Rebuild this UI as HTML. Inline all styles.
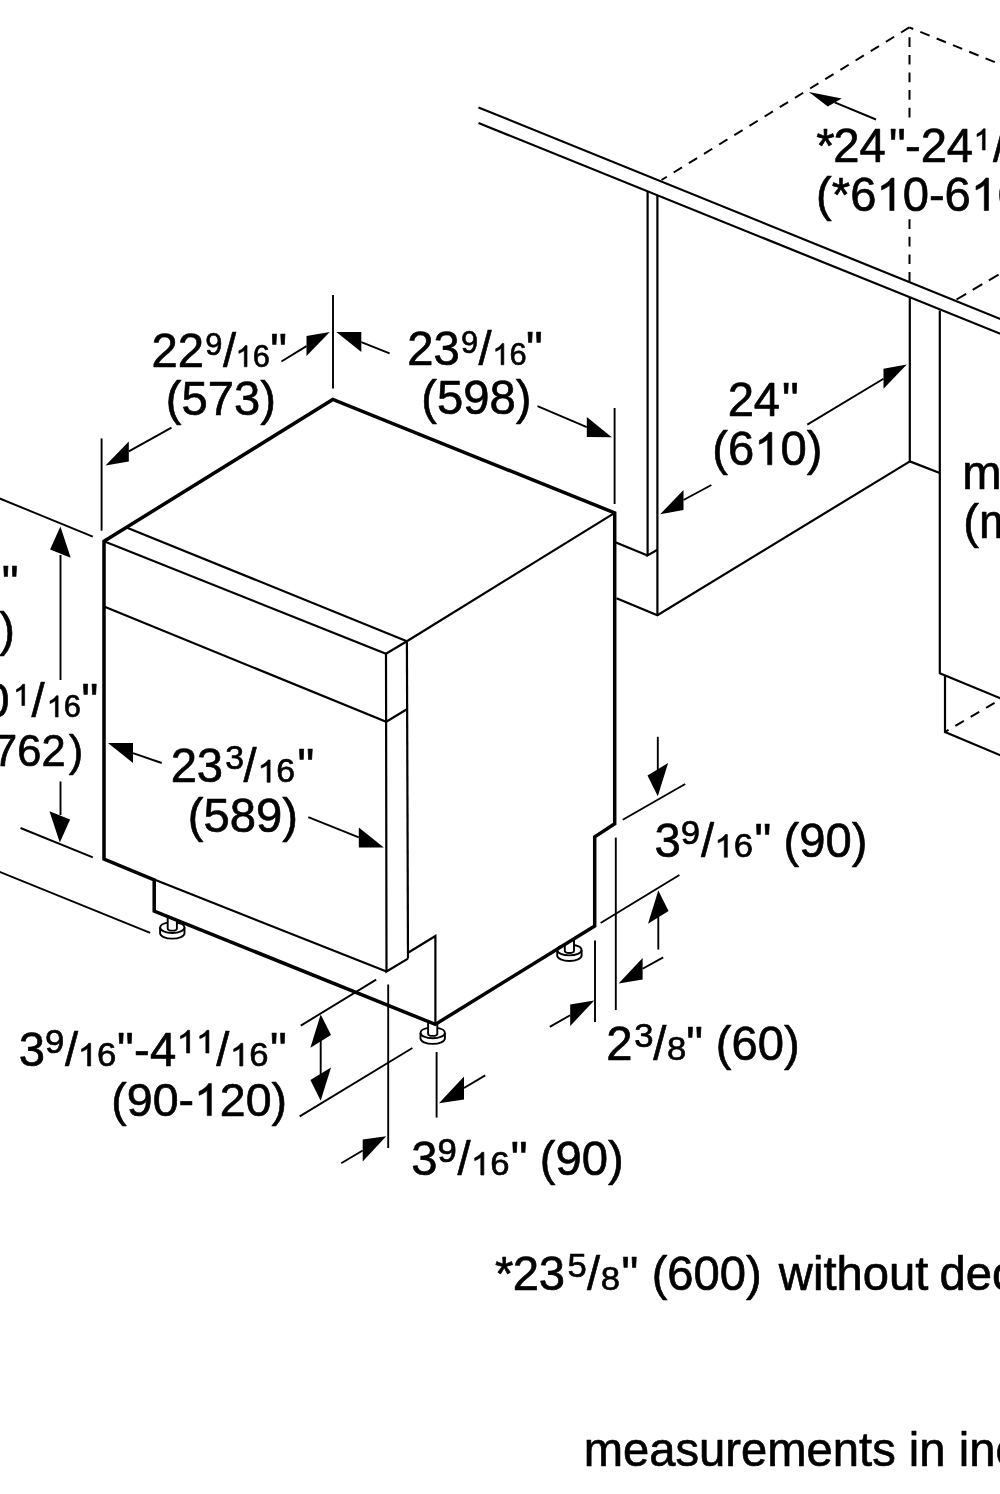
<!DOCTYPE html>
<html><head><meta charset="utf-8"><title>Dimension drawing</title>
<style>
html,body{margin:0;padding:0;background:#fff;}
body{width:1000px;height:1494px;overflow:hidden;}
svg{display:block;will-change:transform;}
svg path{fill:none;stroke:#000;}
svg .f{fill:#000;stroke:none;}
svg .g{fill:#000;stroke:#000;stroke-linejoin:round;}
svg text{font-family:"Liberation Sans",sans-serif;fill:#000;stroke:#000;stroke-width:0.65px;stroke-linejoin:round;}
</style></head>
<body>
<svg width="1000" height="1494" viewBox="0 0 1000 1494">
<rect x="0" y="0" width="1000" height="1494" fill="#fff"/>
<path d="M478.50 107.40 L1002.00 319.68" stroke-width="2.2" stroke-linecap="butt" stroke-linejoin="miter"/>
<path d="M478.50 123.00 L1002.00 334.49" stroke-width="2.2" stroke-linecap="butt" stroke-linejoin="miter"/>
<path d="M647.60 191.50 L647.60 555.40 L657.40 549.80" stroke-width="2.2" stroke-linecap="butt" stroke-linejoin="miter"/>
<path d="M657.40 195.50 L657.40 615.20" stroke-width="2.2" stroke-linecap="butt" stroke-linejoin="miter"/>
<path d="M614.70 542.00 L647.60 555.40" stroke-width="2.2" stroke-linecap="butt" stroke-linejoin="miter"/>
<path d="M616.50 598.20 L657.40 615.20 L909.50 461.60" stroke-width="2.2" stroke-linecap="butt" stroke-linejoin="miter"/>
<path d="M909.80 298.00 L909.80 461.40 L939.80 473.00" stroke-width="2.2" stroke-linecap="butt" stroke-linejoin="miter"/>
<path d="M939.80 310.40 L939.80 673.20 L1002.00 698.90" stroke-width="2.2" stroke-linecap="butt" stroke-linejoin="miter"/>
<path d="M945.00 675.30 L945.00 731.90 L1002.00 756.00" stroke-width="2.2" stroke-linecap="butt" stroke-linejoin="miter"/>
<path d="M945.00 731.90 L1002.00 698.40" stroke-width="2.0" stroke-linecap="butt" stroke-linejoin="miter" stroke-dasharray="9.9 7.9" stroke-dashoffset="5.8"/>
<path d="M909.30 27.40 L661.50 180.00" stroke-width="2.0" stroke-linecap="butt" stroke-linejoin="miter" stroke-dasharray="9.7 8.1"/>
<path d="M909.30 27.40 L1002.00 65.00" stroke-width="2.0" stroke-linecap="butt" stroke-linejoin="miter" stroke-dasharray="10 7.6" stroke-dashoffset="5.7"/>
<path d="M909.50 37.30 L909.50 118.00" stroke-width="2.0" stroke-linecap="butt" stroke-linejoin="miter" stroke-dasharray="9.7 7.9"/>
<path d="M909.50 219.20 L909.50 282.50" stroke-width="2.0" stroke-linecap="butt" stroke-linejoin="miter" stroke-dasharray="9.7 7.9"/>
<path d="M956.50 299.50 L1002.00 272.60" stroke-width="2.0" stroke-linecap="butt" stroke-linejoin="miter" stroke-dasharray="11.2 7.6"/>
<path d="M167.70 917.10 L167.70 928.40 A4.6 2.2 0 0 0 176.90 928.40 L176.90 920.10" stroke-width="1.9" style="fill:#fff"/>
<path d="M160.10 927.60 L160.10 933.20 A12.2 5.4 0 0 0 184.50 933.20 L184.50 927.60" stroke-width="1.9"/>
<path d="M167.70 922.63 A12.2 5.4 0 0 0 160.10 927.60 A12.2 5.4 0 0 0 184.50 927.60 A12.2 5.4 0 0 0 176.90 922.63" stroke-width="1.9"/>
<path d="M428.10 1022.40 L428.10 1033.70 A4.6 2.2 0 0 0 437.30 1033.70 L437.30 1022.90" stroke-width="1.9" style="fill:#fff"/>
<path d="M420.50 1032.90 L420.50 1038.50 A12.2 5.4 0 0 0 444.90 1038.50 L444.90 1032.90" stroke-width="1.9"/>
<path d="M428.10 1027.93 A12.2 5.4 0 0 0 420.50 1032.90 A12.2 5.4 0 0 0 444.90 1032.90 A12.2 5.4 0 0 0 437.30 1027.93" stroke-width="1.9"/>
<path d="M564.80 944.50 L564.80 950.80 A4.6 2.2 0 0 0 574.00 950.80 L574.00 939.50" stroke-width="1.9" style="fill:#fff"/>
<path d="M557.20 950.00 L557.20 955.60 A12.2 5.4 0 0 0 581.60 955.60 L581.60 950.00" stroke-width="1.9"/>
<path d="M564.80 945.03 A12.2 5.4 0 0 0 557.20 950.00 A12.2 5.4 0 0 0 581.60 950.00 A12.2 5.4 0 0 0 574.00 945.03" stroke-width="1.9"/>
<path d="M126.50 527.40 L406.90 641.20" stroke-width="2.2" stroke-linecap="butt" stroke-linejoin="miter"/>
<path d="M104.00 541.30 L386.00 653.80 L406.90 641.20" stroke-width="2.2" stroke-linecap="butt" stroke-linejoin="miter"/>
<path d="M406.90 641.20 L614.70 512.90" stroke-width="2.2" stroke-linecap="butt" stroke-linejoin="miter"/>
<path d="M386.00 653.80 L386.50 971.50 L408.00 958.60" stroke-width="2.2" stroke-linecap="butt" stroke-linejoin="miter"/>
<path d="M406.90 641.20 L408.00 958.60" stroke-width="2.2" stroke-linecap="butt" stroke-linejoin="miter"/>
<path d="M104.00 606.60 L386.20 721.70 L407.30 709.00" stroke-width="2.2" stroke-linecap="butt" stroke-linejoin="miter"/>
<path d="M154.20 879.60 L386.50 971.50" stroke-width="2.2" stroke-linecap="butt" stroke-linejoin="miter"/>
<path d="M408.00 952.80 L435.40 936.00 L435.40 1024.00" stroke-width="2.2" stroke-linecap="butt" stroke-linejoin="miter"/>
<path d="M104.00 859.20 L104.00 541.30 L332.80 399.50 L614.70 512.90 L614.70 823.80 L594.70 836.90 L594.70 925.90 L435.30 1024.40 L154.20 911.00 L154.20 880.00 L104.00 859.20 L104.00 541.30" stroke-width="3.5" stroke-linecap="butt" stroke-linejoin="miter"/>
<path d="M333.00 295.00 L333.00 388.50" stroke-width="1.9" stroke-linecap="butt" stroke-linejoin="miter"/>
<path d="M101.60 438.40 L101.60 530.70" stroke-width="1.9" stroke-linecap="butt" stroke-linejoin="miter"/>
<path d="M614.60 408.00 L614.60 504.00" stroke-width="1.9" stroke-linecap="butt" stroke-linejoin="miter"/>
<path d="M-2.00 497.80 L92.80 536.60" stroke-width="1.9" stroke-linecap="butt" stroke-linejoin="miter"/>
<path d="M20.50 828.00 L92.80 857.40" stroke-width="1.9" stroke-linecap="butt" stroke-linejoin="miter"/>
<path d="M-2.00 871.20 L150.20 932.90" stroke-width="1.9" stroke-linecap="butt" stroke-linejoin="miter"/>
<path d="M60.50 555.00 L60.50 680.00" stroke-width="1.9" stroke-linecap="butt" stroke-linejoin="miter"/>
<path d="M60.50 781.50 L60.50 815.00" stroke-width="1.9" stroke-linecap="butt" stroke-linejoin="miter"/>
<path d="M300.80 1025.60 L376.20 979.60" stroke-width="1.9" stroke-linecap="butt" stroke-linejoin="miter"/>
<path d="M299.70 1116.40 L412.40 1048.00" stroke-width="1.9" stroke-linecap="butt" stroke-linejoin="miter"/>
<path d="M320.70 1040.00 L320.70 1075.00" stroke-width="1.9" stroke-linecap="butt" stroke-linejoin="miter"/>
<path d="M388.20 984.50 L388.20 1148.00" stroke-width="1.9" stroke-linecap="butt" stroke-linejoin="miter"/>
<path d="M436.60 1052.00 L436.60 1117.60" stroke-width="1.9" stroke-linecap="butt" stroke-linejoin="miter"/>
<path d="M622.80 819.80 L685.20 784.00" stroke-width="1.9" stroke-linecap="butt" stroke-linejoin="miter"/>
<path d="M600.60 923.00 L679.40 875.00" stroke-width="1.9" stroke-linecap="butt" stroke-linejoin="miter"/>
<path d="M657.80 736.80 L657.80 772.00" stroke-width="1.9" stroke-linecap="butt" stroke-linejoin="miter"/>
<path d="M658.30 915.00 L658.30 949.60" stroke-width="1.9" stroke-linecap="butt" stroke-linejoin="miter"/>
<path d="M615.80 837.60 L615.80 1010.00" stroke-width="1.9" stroke-linecap="butt" stroke-linejoin="miter"/>
<path d="M595.00 940.50 L595.00 1022.00" stroke-width="1.9" stroke-linecap="butt" stroke-linejoin="miter"/>
<polygon class="f" points="329.80,331.90 306.50,336.11 306.50,356.11"/>
<path d="M306.50 346.11 L281.40 361.50" stroke-width="1.9" stroke-linecap="butt" stroke-linejoin="miter"/>
<polygon class="f" points="336.30,331.90 361.30,332.02 361.30,352.02"/>
<path d="M361.30 342.02 L389.60 353.40" stroke-width="1.9" stroke-linecap="butt" stroke-linejoin="miter"/>
<polygon class="f" points="105.50,465.60 128.80,441.39 128.80,461.39"/>
<path d="M128.80 451.39 L171.50 427.60" stroke-width="1.9" stroke-linecap="butt" stroke-linejoin="miter"/>
<polygon class="f" points="611.80,437.20 586.80,417.07 586.80,437.07"/>
<path d="M586.80 427.07 L537.50 406.20" stroke-width="1.9" stroke-linecap="butt" stroke-linejoin="miter"/>
<polygon class="f" points="906.80,364.60 883.50,368.81 883.50,388.81"/>
<path d="M883.50 378.81 L807.30 424.60" stroke-width="1.9" stroke-linecap="butt" stroke-linejoin="miter"/>
<polygon class="f" points="660.20,514.20 683.50,489.99 683.50,509.99"/>
<path d="M683.50 499.99 L711.40 485.00" stroke-width="1.9" stroke-linecap="butt" stroke-linejoin="miter"/>
<polygon class="f" points="808.90,91.90 841.75,98.40 827.80,106.50"/>
<path d="M834.70 102.40 L876.00 119.50" stroke-width="1.9" stroke-linecap="butt" stroke-linejoin="miter"/>
<polygon class="f" points="108.00,743.00 133.00,743.12 133.00,763.12"/>
<path d="M133.00 753.12 L161.70 763.00" stroke-width="1.9" stroke-linecap="butt" stroke-linejoin="miter"/>
<polygon class="f" points="383.80,847.60 358.80,827.48 358.80,847.48"/>
<path d="M358.80 837.48 L308.30 817.20" stroke-width="1.9" stroke-linecap="butt" stroke-linejoin="miter"/>
<polygon class="f" points="60.40,526.60 50.10,549.43 70.70,557.77"/>
<polygon class="f" points="59.80,842.40 49.50,811.23 70.10,819.57"/>
<polygon class="f" points="320.70,1014.40 310.40,1047.68 331.00,1035.12"/>
<polygon class="f" points="320.70,1100.80 310.40,1080.08 331.00,1067.52"/>
<polygon class="f" points="657.80,796.30 647.50,775.58 668.10,763.02"/>
<polygon class="f" points="658.30,890.40 648.00,923.68 668.60,911.12"/>
<polygon class="f" points="594.20,1000.60 570.20,1004.49 570.20,1025.99"/>
<path d="M570.20 1015.24 L549.80 1026.80" stroke-width="1.9" stroke-linecap="butt" stroke-linejoin="miter"/>
<polygon class="f" points="618.60,983.40 642.60,958.01 642.60,979.51"/>
<path d="M642.60 968.76 L663.20 957.40" stroke-width="1.9" stroke-linecap="butt" stroke-linejoin="miter"/>
<polygon class="f" points="386.20,1136.20 362.70,1139.54 362.70,1161.54"/>
<path d="M362.70 1150.54 L341.20 1163.20" stroke-width="1.9" stroke-linecap="butt" stroke-linejoin="miter"/>
<polygon class="f" points="439.00,1103.20 464.00,1076.45 464.00,1099.45"/>
<path d="M464.00 1087.95 L485.20 1075.40" stroke-width="1.9" stroke-linecap="butt" stroke-linejoin="miter"/>
<text x="151.43" y="366.80" font-size="47.2">22</text>
<text x="205.16" y="355.20" font-size="30.8">9</text>
<text x="223.00" y="366.80" font-size="47.2">/</text>
<path class="g" d="M763 0H583V1147Q518 1085 412.5 1023T223 930V1104Q373 1174.5 485 1275T644 1466H763Z" transform="translate(235.55 366.80) scale(0.01504 -0.01445)" stroke-width="43.2"/>
<text x="252.68" y="366.80" font-size="30.8">6</text>
<text x="270.29" y="366.80" font-size="47.2">&quot;</text>
<text x="165.87" y="414.60" font-size="47.2">(573)</text>
<text x="407.23" y="364.80" font-size="47.2">23</text>
<text x="460.96" y="353.20" font-size="30.8">9</text>
<text x="478.40" y="364.80" font-size="47.2">/</text>
<path class="g" d="M763 0H583V1147Q518 1085 412.5 1023T223 930V1104Q373 1174.5 485 1275T644 1466H763Z" transform="translate(492.35 364.80) scale(0.01504 -0.01445)" stroke-width="43.2"/>
<text x="509.48" y="364.80" font-size="30.8">6</text>
<text x="525.99" y="364.80" font-size="47.2">&quot;</text>
<text x="421.27" y="414.00" font-size="47.2">(598)</text>
<text x="727.63" y="415.50" font-size="47.2">24</text>
<text x="781.99" y="415.50" font-size="47.2">&quot;</text>
<text x="712.27" y="464.80" font-size="47.2">(6</text>
<path class="g" d="M763 0H583V1147Q518 1085 412.5 1023T223 930V1104Q373 1174.5 485 1275T644 1466H763Z" transform="translate(754.24 464.80) scale(0.02305 -0.02215)" stroke-width="28.2"/>
<text x="780.49" y="464.80" font-size="47.2">0)</text>
<text x="816.24" y="161.60" font-size="47.2">*</text>
<text x="833.23" y="161.60" font-size="47.2">24</text>
<text x="888.99" y="161.60" font-size="47.2">&quot;</text>
<text x="904.90" y="161.60" font-size="47.2">-</text>
<text x="920.63" y="161.60" font-size="47.2">24</text>
<path class="g" d="M763 0H583V1147Q518 1085 412.5 1023T223 930V1104Q373 1174.5 485 1275T644 1466H763Z" transform="translate(973.65 150.00) scale(0.01504 -0.01445)" stroke-width="43.2"/>
<text x="993.00" y="161.60" font-size="47.2">/</text>
<text x="1007.29" y="161.60" font-size="30.8">4</text>
<text x="816.07" y="210.50" font-size="47.2">(*6</text>
<path class="g" d="M763 0H583V1147Q518 1085 412.5 1023T223 930V1104Q373 1174.5 485 1275T644 1466H763Z" transform="translate(876.41 210.50) scale(0.02305 -0.02215)" stroke-width="28.2"/>
<text x="902.66" y="210.50" font-size="47.2">0-6</text>
<path class="g" d="M763 0H583V1147Q518 1085 412.5 1023T223 930V1104Q373 1174.5 485 1275T644 1466H763Z" transform="translate(970.88 210.50) scale(0.02305 -0.02215)" stroke-width="28.2"/>
<text x="997.13" y="210.50" font-size="47.2">6)</text>
<text x="962.17" y="489.00" font-size="47.2">min. 34&quot;</text>
<text x="963.37" y="538.00" font-size="47.2">(min. 865)</text>
<text x="1.79" y="598.50" font-size="47.2">&quot;</text>
<text x="-0.80" y="645.60" font-size="47.2">)</text>
<text x="-42.90" y="717.00" font-size="47.2">30</text>
<path class="g" d="M763 0H583V1147Q518 1085 412.5 1023T223 930V1104Q373 1174.5 485 1275T644 1466H763Z" transform="translate(13.15 705.40) scale(0.01504 -0.01445)" stroke-width="43.2"/>
<text x="31.40" y="717.00" font-size="47.2">/</text>
<path class="g" d="M763 0H583V1147Q518 1085 412.5 1023T223 930V1104Q373 1174.5 485 1275T644 1466H763Z" transform="translate(46.65 717.00) scale(0.01504 -0.01445)" stroke-width="43.2"/>
<text x="63.78" y="717.00" font-size="30.8">6</text>
<text x="81.49" y="717.00" font-size="47.2">&quot;</text>
<text x="-21.40" y="765.80" font-size="43.5">(762</text>
<text x="68.75" y="765.80" font-size="43.5">)</text>
<text x="170.63" y="782.30" font-size="47.2">23</text>
<g transform="translate(225.31 769.30) scale(1.0400 1)">
<text x="0.00" y="0.00" font-size="32.5">3</text>
</g>
<text x="243.60" y="782.30" font-size="47.2">/</text>
<g transform="translate(257.52 782.30) scale(1.0400 1)">
<path class="g" d="M763 0H583V1147Q518 1085 412.5 1023T223 930V1104Q373 1174.5 485 1275T644 1466H763Z" transform="translate(0.00 0.00) scale(0.01587 -0.01525)" stroke-width="41.0"/>
<text x="18.07" y="0.00" font-size="32.5">6</text>
</g>
<text x="297.39" y="782.30" font-size="47.2">&quot;</text>
<text x="187.87" y="831.80" font-size="47.2">(589)</text>
<text x="654.50" y="857.20" font-size="47.2">3</text>
<g transform="translate(680.68 844.20) scale(1.0500 1)">
<text x="0.00" y="0.00" font-size="33">9</text>
</g>
<text x="701.00" y="857.20" font-size="47.2">/</text>
<g transform="translate(714.43 857.20) scale(1.0500 1)">
<path class="g" d="M763 0H583V1147Q518 1085 412.5 1023T223 930V1104Q373 1174.5 485 1275T644 1466H763Z" transform="translate(0.00 0.00) scale(0.01611 -0.01548)" stroke-width="40.3"/>
<text x="18.35" y="0.00" font-size="33">6</text>
</g>
<text x="754.39" y="857.20" font-size="47.2">&quot;</text>
<text x="783.47" y="857.20" font-size="47.2">(90)</text>
<text x="606.23" y="1059.60" font-size="47.2">2</text>
<g transform="translate(634.18 1046.60) scale(1.0500 1)">
<text x="0.00" y="0.00" font-size="33">3</text>
</g>
<text x="653.30" y="1059.60" font-size="47.2">/</text>
<g transform="translate(666.89 1059.60) scale(1.0500 1)">
<text x="0.00" y="0.00" font-size="33">8</text>
</g>
<text x="686.19" y="1059.60" font-size="47.2">&quot;</text>
<text x="715.87" y="1059.60" font-size="47.2">(60)</text>
<text x="18.80" y="1066.00" font-size="47.2">3</text>
<g transform="translate(44.88 1053.00) scale(1.0500 1)">
<text x="0.00" y="0.00" font-size="33">9</text>
</g>
<text x="65.00" y="1066.00" font-size="47.2">/</text>
<g transform="translate(77.73 1066.00) scale(1.0500 1)">
<path class="g" d="M763 0H583V1147Q518 1085 412.5 1023T223 930V1104Q373 1174.5 485 1275T644 1466H763Z" transform="translate(0.00 0.00) scale(0.01611 -0.01548)" stroke-width="40.3"/>
<text x="18.35" y="0.00" font-size="33">6</text>
</g>
<text x="116.99" y="1066.00" font-size="47.2">&quot;</text>
<text x="133.90" y="1066.00" font-size="47.2">-</text>
<text x="150.12" y="1066.00" font-size="47.2">4</text>
<g transform="translate(176.73 1053.00) scale(1.0500 1)">
<path class="g" d="M763 0H583V1147Q518 1085 412.5 1023T223 930V1104Q373 1174.5 485 1275T644 1466H763Z" transform="translate(0.00 0.00) scale(0.01611 -0.01548)" stroke-width="40.3"/>
<path class="g" d="M763 0H583V1147Q518 1085 412.5 1023T223 930V1104Q373 1174.5 485 1275T644 1466H763Z" transform="translate(18.35 0.00) scale(0.01611 -0.01548)" stroke-width="40.3"/>
</g>
<text x="216.30" y="1066.00" font-size="47.2">/</text>
<g transform="translate(229.93 1066.00) scale(1.0500 1)">
<path class="g" d="M763 0H583V1147Q518 1085 412.5 1023T223 930V1104Q373 1174.5 485 1275T644 1466H763Z" transform="translate(0.00 0.00) scale(0.01611 -0.01548)" stroke-width="40.3"/>
<text x="18.35" y="0.00" font-size="33">6</text>
</g>
<text x="269.99" y="1066.00" font-size="47.2">&quot;</text>
<text x="111.32" y="1115.60" font-size="46.5">(90-</text>
<path class="g" d="M763 0H583V1147Q518 1085 412.5 1023T223 930V1104Q373 1174.5 485 1275T644 1466H763Z" transform="translate(194.01 1115.60) scale(0.02271 -0.02182)" stroke-width="28.6"/>
<text x="219.87" y="1115.60" font-size="46.5">20)</text>
<text x="411.20" y="1175.00" font-size="47.2">3</text>
<g transform="translate(437.38 1162.00) scale(1.0500 1)">
<text x="0.00" y="0.00" font-size="33">9</text>
</g>
<text x="457.50" y="1175.00" font-size="47.2">/</text>
<g transform="translate(470.93 1175.00) scale(1.0500 1)">
<path class="g" d="M763 0H583V1147Q518 1085 412.5 1023T223 930V1104Q373 1174.5 485 1275T644 1466H763Z" transform="translate(0.00 0.00) scale(0.01611 -0.01548)" stroke-width="40.3"/>
<text x="18.35" y="0.00" font-size="33">6</text>
</g>
<text x="510.79" y="1175.00" font-size="47.2">&quot;</text>
<text x="539.87" y="1175.00" font-size="47.2">(90)</text>
<text x="495.04" y="1290.20" font-size="47.2">*</text>
<text x="512.63" y="1290.20" font-size="47.2">23</text>
<g transform="translate(567.41 1277.20) scale(1.0500 1)">
<text x="0.00" y="0.00" font-size="33">5</text>
</g>
<text x="587.00" y="1290.20" font-size="47.2">/</text>
<g transform="translate(600.69 1290.20) scale(1.0500 1)">
<text x="0.00" y="0.00" font-size="33">8</text>
</g>
<text x="621.39" y="1290.20" font-size="47.2">&quot;</text>
<text x="651.67" y="1290.40" font-size="47.2">(600)</text>
<text x="778.87" y="1290.40" font-size="47.2">without</text>
<text x="939.42" y="1290.40" font-size="47.2">decorative panel</text>
<text x="583.67" y="1465.80" font-size="47.2">measurements in inches (mm)</text>
</svg>
</body></html>
